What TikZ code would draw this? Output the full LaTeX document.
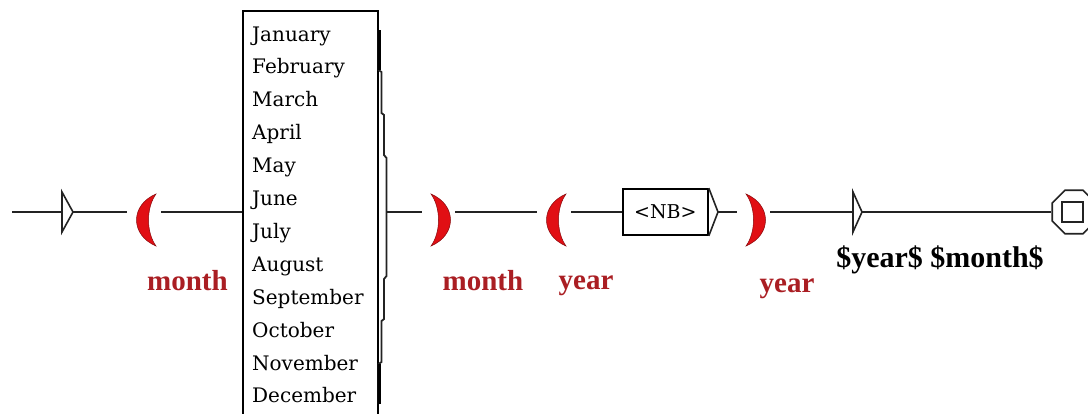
\documentclass[tikz,border=0pt]{standalone}
\usepackage{fontspec}
\setmainfont{Liberation Serif}
\newfontfamily\listfont{DejaVu Serif}
\usetikzlibrary{shapes.geometric}
\definecolor{labelred}{RGB}{170,30,35}
\definecolor{parenred}{RGB}{225,15,20}
\definecolor{wirecol}{RGB}{35,35,35}
\tikzset{
  wire/.style={draw=wirecol, line width=1.8pt},
  lbl/.style={font=\bfseries\fontsize{29}{30}\selectfont, text=labelred, inner sep=0pt, anchor=base},
  outlbl/.style={font=\bfseries\fontsize{30}{31}\selectfont, text=black, inner sep=0pt, anchor=base},
  item/.style={font=\listfont\fontsize{20}{21}\selectfont, inner sep=0pt, anchor=base west},
  lparen/.pic={
    \fill[parenred, draw=parenred!60!black, line width=0.5pt]
      (9,-26) .. controls (-17,-15) and (-17,15) .. (9,26)
              .. controls (-1,12) and (-1,-12) .. (9,-26) -- cycle;
    \coordinate (-a) at (-20,-8);
    \coordinate (-b) at (14,-8);
  },
  rparen/.pic={
    \fill[parenred, draw=parenred!60!black, line width=0.5pt]
      (-9,-26) .. controls (17,-15) and (17,15) .. (-9,26)
              .. controls (1,12) and (1,-12) .. (-9,-26) -- cycle;
    \coordinate (-a) at (-18,-8);
    \coordinate (-b) at (15,-8);
  },
  arrowtri/.style={draw=wirecol, line width=1.6pt, line join=miter}
}
\begin{document}
\begin{tikzpicture}[x=1pt,y=-1pt]
\useasboundingbox (0,0) rectangle (1088,413);
\fill[white] (0,0) rectangle (1088,413);

% initial state
\coordinate (start) at (12,212);
\coordinate (initL) at (62,212);
\coordinate (initR) at (73,212);
\draw[arrowtri] (62,192) -- (initR) -- (62,232) -- cycle;

% parentheses
\pic (p1) at (147,220) {lparen};
\pic (p2) at (440,220) {rparen};
\pic (p3) at (557,220) {lparen};
\pic (p4) at (755,220) {rparen};

% month box
\node[draw=black, line width=1.8pt, minimum width=135pt, minimum height=430pt, inner sep=0pt, anchor=north west] (mbox) at (242,10) {};
\foreach \m [count=\i from 0] in {January,February,March,April,May,June,July,August,September,October,November,December}
  \node[item] (m\i) at (252,{41+\i*32.9}) {\m};

% bracket on the right of the list
\coordinate (brk) at (386.5,212);
\draw[wire] (378.5,30) -- (378.5,70) -- (381.5,72) -- (381.5,113) -- (384,115) -- (384,155) -- (386.5,158)
  -- (386.5,276) -- (384,279) -- (384,319) -- (381.5,321) -- (381.5,362) -- (378.5,364) -- (378.5,404);
\draw[draw=black, line width=3pt] (379,30) -- (379,70);
\draw[draw=black, line width=3pt] (379,364) -- (379,404);

% NB box
\node[draw=black, line width=1.8pt, minimum width=85pt, minimum height=46pt, inner sep=0pt, anchor=west,
      font=\listfont\fontsize{19}{20}\selectfont] (nb) at (622,212) {<NB>};
\coordinate (nbtip) at (718,212);
\draw[arrowtri] (nb.north east) -- (nbtip) -- (nb.south east);

% output arrow
\coordinate (outL) at (853,212);
\coordinate (outR) at (862,212);
\draw[arrowtri] (853,192) -- (outR) -- (853,232) -- cycle;

% final state
\node[regular polygon, regular polygon sides=8, draw=wirecol, line width=1.6pt, minimum size=47pt, inner sep=0pt] (fin) at (1074,212) {};
\node[draw=wirecol, line width=1.6pt, minimum width=21pt, minimum height=20pt, inner sep=0pt] (finsq) at (1072.5,212) {};

% connectors
\draw[wire] (start) -- (initL);
\draw[wire] (initR) -- (p1-a);
\draw[wire] (p1-b) -- (p1-b -| mbox.west);
\draw[wire] (brk) -- (p2-a);
\draw[wire] (p2-b) -- (p3-a);
\draw[wire] (p3-b) -- (nb.west);
\draw[wire] (nbtip) -- (p4-a);
\draw[wire] (p4-b) -- (outL);
\draw[wire] (outR) -- (outR -| fin.west);

% labels
\node[lbl] (l1) at (187.5,290) {month};
\node[lbl] (l2) at (483,290) {month};
\node[lbl] (l3) at (586,289) {year};
\node[lbl] (l4) at (787,292) {year};
\node[outlbl] (l5) at (940,267) {\$year\$ \$month\$};
\end{tikzpicture}
\end{document}
